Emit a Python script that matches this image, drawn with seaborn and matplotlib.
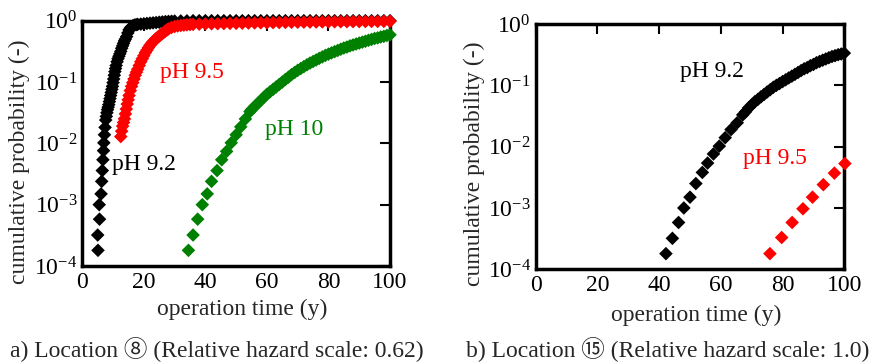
import matplotlib
matplotlib.use("Agg")
import matplotlib.pyplot as plt
import seaborn as sns
import pandas as pd
from matplotlib.ticker import FixedLocator, NullLocator

# ---------------- data ----------------
# Panel a: Location 8
a_black_t = [5.1, 5.0, 5.6, 5.5, 6.1, 6.3, 6.5, 6.7, 6.9, 7.0, 7.2, 7.4, 7.6,
             7.8, 8.0, 8.2, 8.4, 8.6, 8.8, 9.0, 9.2, 9.4, 9.6, 9.8, 10.0, 10.2,
             10.4, 10.6, 10.8, 11.0, 11.3, 11.6, 11.9, 12.2, 12.5, 12.8, 13.1,
             13.4, 13.7, 14.0, 14.4, 14.8, 15.2, 15.6, 16.0, 16.5, 17.0, 17.5,
             18, 19, 20, 21, 22, 23, 24, 25, 26, 27, 28, 29, 30, 32, 34,
             36, 38, 40, 42, 44, 46, 48, 50, 52, 54, 56, 58, 60, 62, 64, 66,
             68, 70, 72, 74, 76, 78, 80, 82, 84, 86, 88, 90, 92, 94, 96, 98, 100]
a_black_p = [1.8e-4, 3.2e-4, 5.8e-4, 1.0e-3, 1.5e-3, 2.4e-3, 3.6e-3, 5.4e-3,
             7.6e-3, 1.02e-2, 1.38e-2, 1.82e-2, 2.4e-2,
             0.0275, 0.0316, 0.0355, 0.0389, 0.0427, 0.0479, 0.0537, 0.0603,
             0.0676, 0.0759, 0.0851, 0.0977, 0.112, 0.129, 0.148, 0.166, 0.186,
             0.214, 0.240, 0.263, 0.288, 0.316, 0.355, 0.389, 0.427, 0.468,
             0.501, 0.550, 0.631, 0.708, 0.759, 0.794, 0.832, 0.851, 0.861,
             0.871, 0.881, 0.891, 0.902, 0.912, 0.923, 0.933, 0.944, 0.955,
             0.966, 0.973, 0.979, 0.986, 0.991, 0.995,
             1.0, 1.0, 1.0, 1.0, 1.0, 1.0, 1.0, 1.0, 1.0, 1.0, 1.0, 1.0, 1.0,
             1.0, 1.0, 1.0, 1.0, 1.0, 1.0, 1.0, 1.0, 1.0, 1.0, 1.0, 1.0, 1.0,
             1.0, 1.0, 1.0, 1.0, 1.0, 1.0, 1.0]

a_red_t = [12.5, 12.8, 13.1, 13.4, 13.7, 14.0, 14.3, 14.6, 14.9, 15.2, 15.6,
           16.0, 16.4, 16.8, 17.2, 17.6, 18.0, 18.5, 19.0, 19.5, 20.0, 20.5,
           21.0, 21.5, 22.0, 22.5, 23.0, 23.5, 24.0, 24.5, 25.0, 25.5, 26.0,
           26.5, 27.0, 27.5, 28, 29, 30, 31, 32, 33, 34, 35, 36, 38, 40, 42,
           44, 46, 48, 50, 52, 54, 56, 58, 60, 62, 64, 66, 68, 70, 72, 74, 76,
           78, 80, 82, 84, 86, 88, 90, 92, 94, 96, 98, 100]
a_red_p = [0.0129, 0.0158, 0.0191, 0.0219, 0.0251, 0.0302, 0.0363, 0.0437,
           0.0513, 0.0603, 0.0724, 0.0851, 0.0977, 0.112, 0.129, 0.145, 0.162,
           0.186, 0.214, 0.240, 0.269, 0.302, 0.331, 0.363, 0.398, 0.427,
           0.457, 0.479, 0.513, 0.537, 0.562, 0.589, 0.617, 0.646, 0.676,
           0.708, 0.733, 0.776, 0.804, 0.822, 0.836, 0.847, 0.857, 0.865,
           0.871, 0.879, 0.885, 0.891, 0.895, 0.899, 0.904, 0.908, 0.912,
           0.916, 0.920, 0.924, 0.927, 0.931, 0.934, 0.938, 0.941, 0.944,
           0.947, 0.950, 0.953, 0.955, 0.958, 0.960, 0.962, 0.964, 0.966,
           0.968, 0.970, 0.972, 0.974, 0.976, 0.977]

a_green_t = [34.5, 36.0, 37.5, 39.0, 40.6, 42.0, 43.8, 45.3, 46.9, 48.4, 50.0,
             51.5, 53.0, 54.5, 55, 56, 57, 58, 59, 60, 61, 62, 63, 64, 65, 66,
             67, 68, 69, 70, 71, 72, 73, 74, 75, 76, 77, 78, 79, 80, 81, 82, 83,
             84, 85, 86, 87, 88, 89, 90, 91, 92, 93, 94, 95, 96, 97, 98, 99, 100]
a_green_p = [1.8e-4, 3.2e-4, 5.8e-4, 1.0e-3, 1.5e-3, 2.4e-3, 3.6e-3, 5.4e-3,
             7.4e-3, 1.02e-2, 1.38e-2, 1.86e-2, 2.5e-2, 3.3e-2,
             0.0355, 0.0398, 0.0447, 0.0501, 0.0562, 0.0631, 0.0692, 0.0759,
             0.0832, 0.0912, 0.100, 0.110, 0.120, 0.132, 0.143, 0.155, 0.166,
             0.178, 0.191, 0.204, 0.216, 0.229, 0.243, 0.257, 0.272, 0.285,
             0.299, 0.313, 0.327, 0.343, 0.359, 0.372, 0.389, 0.403, 0.417,
             0.432, 0.447, 0.462, 0.479, 0.495, 0.513, 0.525, 0.543, 0.556,
             0.575, 0.589]

# Panel b: Location 15
b_black_t = [42.2, 44.3, 46.3, 48.0, 50.0, 51.9, 54.0, 55.7, 57.6, 59.5, 61.4,
             63.3, 65.3, 67.1, 68, 69, 70, 71, 72, 73, 74, 75, 76, 77, 78, 79,
             80, 81, 82, 83, 84, 85, 86, 87, 88, 89, 90, 91, 92, 93, 94, 95,
             96, 97, 98, 99, 100]
b_black_p = [1.8e-4, 3.2e-4, 5.8e-4, 1.0e-3, 1.5e-3, 2.5e-3, 3.8e-3, 5.4e-3,
             7.6e-3, 1.02e-2, 1.4e-2, 1.9e-2, 2.45e-2, 3.3e-2,
             0.037, 0.043, 0.048, 0.054, 0.059, 0.065, 0.071, 0.078, 0.085,
             0.093, 0.100, 0.107, 0.115, 0.123, 0.132, 0.141, 0.151, 0.162,
             0.174, 0.186, 0.195, 0.209, 0.219, 0.234, 0.245, 0.257, 0.269,
             0.282, 0.295, 0.305, 0.316, 0.324, 0.335]

b_red_t = [75.9, 79.7, 83.1, 86.6, 89.7, 93.2, 96.8, 100.2]
b_red_p = [1.8e-4, 3.3e-4, 5.8e-4, 9.7e-4, 1.5e-3, 2.4e-3, 3.7e-3, 5.3e-3]

x_ticks = [0, 20, 40, 60, 80, 100]
y_ticks = [1e-4, 1e-3, 1e-2, 1e-1, 1e0]
y_tick_labels = [r"$\mathregular{10^{-4}}$", r"$\mathregular{10^{-3}}$",
                 r"$\mathregular{10^{-2}}$", r"$\mathregular{10^{-1}}$",
                 r"$\mathregular{10^{0}}$"]

series_colors = {"pH 9.2": "#000000", "pH 9.5": "#ff0000", "pH 10": "#008000"}

# ---------------- style ----------------
sns.set_style("white")
plt.rcParams["font.family"] = ["Liberation Serif", "Noto Sans CJK JP", "DejaVu Sans"]
plt.rcParams["mathtext.fontset"] = "custom"
plt.rcParams["mathtext.rm"] = "Liberation Serif"
plt.rcParams["mathtext.it"] = "Liberation Serif:italic"
FS = 17


def make_df(t, p, name):
    return pd.DataFrame({"time": t, "prob": p, "series": name})


panel_a = pd.concat([make_df(a_black_t, a_black_p, "pH 9.2"),
                     make_df(a_red_t, a_red_p, "pH 9.5"),
                     make_df(a_green_t, a_green_p, "pH 10")], ignore_index=True)
panel_b = pd.concat([make_df(b_black_t, b_black_p, "pH 9.2"),
                     make_df(b_red_t, b_red_p, "pH 9.5")], ignore_index=True)

fig = plt.figure(figsize=(8.76, 3.63), dpi=100)
W, H = 876.0, 363.0
ax_a = fig.add_axes([82.3 / W, 1 - 266.0 / H, (390.0 - 82.3) / W, (266.0 - 20.7) / H])
ax_b = fig.add_axes([535.7 / W, 1 - 269.3 / H, (844.3 - 535.7) / W, (269.3 - 24.0) / H])


def style_axes(ax):
    ax.set_yscale("log")
    ax.set_xlim(0, 100)
    ax.set_ylim(1e-4, 1)
    ax.xaxis.set_major_locator(FixedLocator(x_ticks))
    ax.set_xticklabels([str(v) for v in x_ticks])
    ax.yaxis.set_major_locator(FixedLocator(y_ticks))
    ax.set_yticklabels(y_tick_labels)
    ax.yaxis.set_minor_locator(NullLocator())
    ax.xaxis.set_minor_locator(NullLocator())
    ax.tick_params(axis="both", which="major", direction="in", top=True,
                   right=True, length=7, width=1.5, labelsize=FS, colors="black")
    ax.tick_params(axis="x", pad=4)
    ax.tick_params(axis="y", pad=3.5)
    for sp in ax.spines.values():
        sp.set_linewidth(2.5)
        sp.set_color("black")
        sp.set_zorder(1)
    ax.set_xlabel("operation time (y)", fontsize=FS)
    ax.set_ylabel("cumulative probability (-)", fontsize=FS)


for ax, df in [(ax_a, panel_a), (ax_b, panel_b)]:
    sns.scatterplot(data=df, x="time", y="prob", hue="series",
                    palette=series_colors, marker="D", s=48, linewidth=0,
                    ax=ax, clip_on=False, zorder=3, legend=False)
    style_axes(ax)

ax_a.xaxis.set_label_coords(0.52, -0.135)
ax_a.yaxis.set_label_coords(-0.17, 0.425)
ax_b.xaxis.set_label_coords(0.52, -0.143)
ax_b.yaxis.set_label_coords(-0.165, 0.43)

# series labels
ax_a.text(25.3, 10 ** -0.84, "pH 9.5", color="#ff0000", fontsize=FS, va="center")
ax_a.text(59.4, 10 ** -1.78, "pH 10", color="#008000", fontsize=FS, va="center")
ax_a.text(9.7, 10 ** -2.35, "pH 9.2", color="black", fontsize=FS, va="center")
ax_b.text(46.8, 10 ** -0.77, "pH 9.2", color="black", fontsize=FS, va="center")
ax_b.text(67.2, 10 ** -2.19, "pH 9.5", color="#ff0000", fontsize=FS, va="center")

# captions
fig.text(216.7 / W, 1 - 349.0 / H, "a) Location \u2467 (Relative hazard scale: 0.62)",
         ha="center", va="center", fontsize=FS)
fig.text(668.0 / W, 1 - 349.0 / H, "b) Location \u246e (Relative hazard scale: 1.0)",
         ha="center", va="center", fontsize=FS)

fig.savefig("out.png", dpi=100)
